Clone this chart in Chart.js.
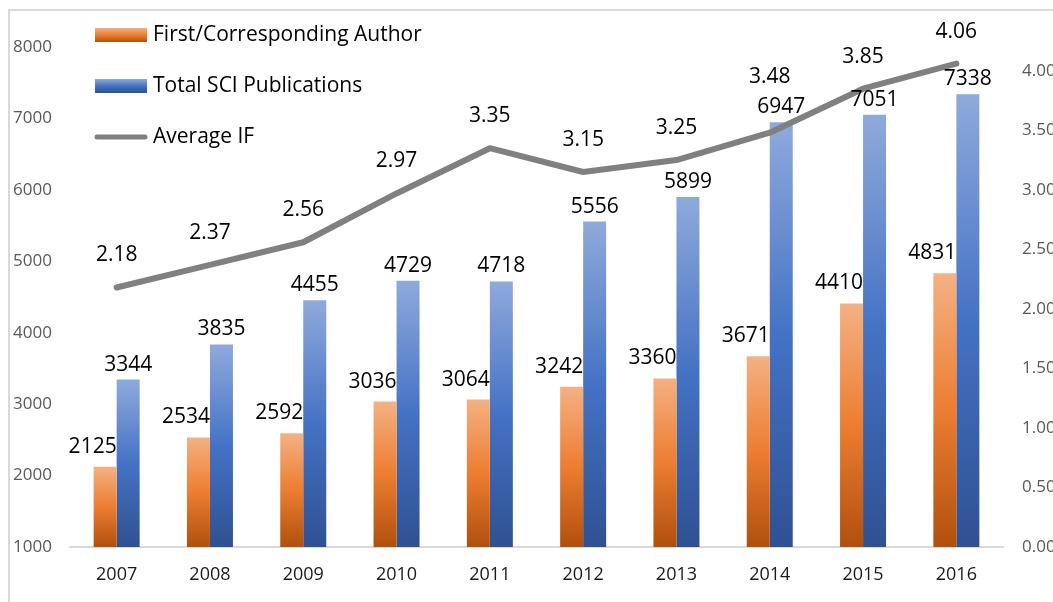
<!DOCTYPE html>
<html>
<head>
<meta charset="utf-8">
<title>SCI Publications 2007-2016</title>
<script src="https://cdn.jsdelivr.net/npm/chart.js@4.4.1/dist/chart.umd.min.js"></script>
<style>
    html, body { margin: 0; padding: 0; background: #ffffff; }
    #wrap { position: relative; width: 1053px; height: 602px; }
</style>
</head>
<body>
<div id="wrap"><canvas id="pubChart"></canvas></div>
<script>
'use strict';

// ---- data ----
const years = ['2007', '2008', '2009', '2010', '2011', '2012', '2013', '2014', '2015', '2016'];
const firstAuthor = [2125, 2534, 2592, 3036, 3064, 3242, 3360, 3671, 4410, 4831];
const totalSCI = [3344, 3835, 4455, 4729, 4718, 5556, 5899, 6947, 7051, 7338];
const averageIF = [2.18, 2.37, 2.56, 2.97, 3.35, 3.15, 3.25, 3.48, 3.85, 4.06];
const seriesNames = ['First/Corresponding Author', 'Total SCI Publications', 'Average IF'];

const FONT = '"Open Sans", "Noto Sans", sans-serif';

// light / base / dark stops, like the Office gradient fill
const ORANGE = ['#f4b183', '#ed7d31', '#b0500e'];
const BLUE = ['#8faadc', '#4472c4', '#2f5192'];
const LINE_GREY = '#808080';

/**
 * Vertical gradient from top to bottom of a rectangle.
 */
function makeGradient(ctx, top, bottom, stops) {
    const g = ctx.createLinearGradient(0, top, 0, bottom);
    g.addColorStop(0, stops[0]);
    g.addColorStop(0.5, stops[1]);
    g.addColorStop(1, stops[2]);
    return g;
}

/**
 * Scriptable bar fill: each bar gets its own light-to-dark gradient.
 */
function barFill(stops) {
    return function (context) {
        const chart = context.chart;
        if (!chart.chartArea || context.type !== 'data') { return stops[1]; }
        const y = chart.scales.y;
        const top = y.getPixelForValue(context.raw);
        const bottom = chart.chartArea.bottom;
        if (!isFinite(top) || bottom - top < 1) { return stops[1]; }
        return makeGradient(chart.ctx, top, bottom, stops);
    };
}

// thin grey frame, cropped on the right and bottom like the screenshot
const framePlugin = {
    id: 'frame',
    beforeDraw(chart) {
        const c = chart.ctx;
        c.save();
        c.strokeStyle = '#d9d9d9';
        c.lineWidth = 2;
        c.strokeRect(9, 10, chart.width + 20, chart.height + 20);
        c.restore();
    }
};

// value labels over bars and line points
const valueLabelPlugin = {
    id: 'valueLabels',
    afterDatasetsDraw(chart) {
        const c = chart.ctx;
        c.save();
        c.font = '21px ' + FONT;
        c.fillStyle = '#000000';
        c.textBaseline = 'middle';
        const h = 20;
        const boxes = [];

        // first/corresponding: right edge of text on right edge of bar
        chart.getDatasetMeta(0).data.forEach((bar, i) => {
            const txt = String(firstAuthor[i]);
            const w = c.measureText(txt).width;
            const right = bar.x + bar.width / 2;
            const cy = bar.y - 20;
            c.textAlign = 'right';
            c.fillText(txt, right, cy);
            boxes.push({ l: right - w, r: right, t: cy - h / 2, b: cy + h / 2 });
        });

        // total: centred on bar
        chart.getDatasetMeta(1).data.forEach((bar, i) => {
            const txt = String(totalSCI[i]);
            const w = c.measureText(txt).width;
            const cy = bar.y - 15;
            c.textAlign = 'center';
            c.fillText(txt, bar.x, cy);
            boxes.push({ l: bar.x - w / 2, r: bar.x + w / 2, t: cy - h / 2, b: cy + h / 2 });
        });

        // average IF: above the point, pushed up if it hits a bar label
        chart.getDatasetMeta(2).data.forEach((pt, i) => {
            const txt = averageIF[i].toFixed(2);
            const w = c.measureText(txt).width;
            let cy = pt.y - 32;
            boxes.forEach(bx => {
                const l = pt.x - w / 2, r = pt.x + w / 2;
                if (l < bx.r && r > bx.l && cy - h / 2 < bx.b && cy + h / 2 > bx.t) {
                    cy = bx.t - h / 2 - 10;
                }
            });
            c.textAlign = 'center';
            c.fillText(txt, pt.x, cy);
        });
        c.restore();
    }
};

// legend drawn inside the plot, top-left
const legendPlugin = {
    id: 'insideLegend',
    afterDraw(chart) {
        const c = chart.ctx;
        const x = 95, sw = 52, rows = [35, 86, 137];
        c.save();
        c.font = '21px ' + FONT;
        c.textAlign = 'left';
        c.textBaseline = 'middle';

        c.fillStyle = makeGradient(c, rows[0] - 7, rows[0] + 7, ORANGE);
        c.fillRect(x, rows[0] - 7, sw, 14);
        c.fillStyle = makeGradient(c, rows[1] - 7, rows[1] + 7, BLUE);
        c.fillRect(x, rows[1] - 7, sw, 14);

        c.strokeStyle = LINE_GREY;
        c.lineWidth = 5;
        c.lineCap = 'round';
        c.beginPath();
        c.moveTo(x + 2, rows[2]);
        c.lineTo(x + sw - 2, rows[2]);
        c.stroke();

        c.fillStyle = '#000000';
        seriesNames.forEach((name, i) => c.fillText(name, x + sw + 6, rows[i]));
        c.restore();
    }
};

new Chart(document.getElementById('pubChart').getContext('2d'), {
    data: {
        labels: years,
        datasets: [
            {
                type: 'bar',
                label: seriesNames[0],
                data: firstAuthor,
                yAxisID: 'y',
                backgroundColor: barFill(ORANGE),
                borderWidth: 0,
                barPercentage: 1,
                categoryPercentage: 0.493,
                order: 1
            },
            {
                type: 'bar',
                label: seriesNames[1],
                data: totalSCI,
                yAxisID: 'y',
                backgroundColor: barFill(BLUE),
                borderWidth: 0,
                barPercentage: 1,
                categoryPercentage: 0.493,
                order: 1
            },
            {
                type: 'line',
                label: seriesNames[2],
                data: averageIF,
                yAxisID: 'y1',
                borderColor: LINE_GREY,
                borderWidth: 6,
                borderJoinStyle: 'round',
                borderCapStyle: 'round',
                pointRadius: 0,
                tension: 0,
                fill: false,
                order: 0
            }
        ]
    },
    options: {
        responsive: true,
        maintainAspectRatio: false,
        animation: false,
        layout: { padding: { top: 47, left: 0, right: 0, bottom: 0 } },
        plugins: {
            legend: { display: false },
            tooltip: { enabled: false }
        },
        scales: {
            x: {
                grid: { display: false, drawTicks: false },
                border: { display: true, color: '#d9d9d9', width: 2 },
                ticks: { color: '#1a1a1a', padding: 17, font: { size: 18, family: FONT } },
                afterFit(scale) { scale.height = 55; }
            },
            y: {
                position: 'left',
                min: 1000,
                max: 8000,
                grid: { display: false, drawTicks: false },
                border: { display: false },
                ticks: {
                    stepSize: 1000,
                    color: '#595959',
                    padding: 18,
                    font: { size: 17, family: FONT },
                    callback: v => String(v)
                },
                afterFit(scale) { scale.width = 70; }
            },
            y1: {
                position: 'right',
                min: 0,
                max: 4.2,
                grid: { display: false, drawTicks: false },
                border: { display: false },
                ticks: {
                    stepSize: 0.5,
                    color: '#595959',
                    padding: 19,
                    font: { size: 17, family: FONT },
                    callback: v => Number(v).toFixed(2)
                },
                afterBuildTicks(scale) {
                    scale.ticks = scale.ticks.filter(t => Math.abs(t.value * 2 - Math.round(t.value * 2)) < 1e-6);
                },
                afterFit(scale) { scale.width = 50; }
            }
        }
    },
    plugins: [framePlugin, valueLabelPlugin, legendPlugin]
});
</script>
</body>
</html>
